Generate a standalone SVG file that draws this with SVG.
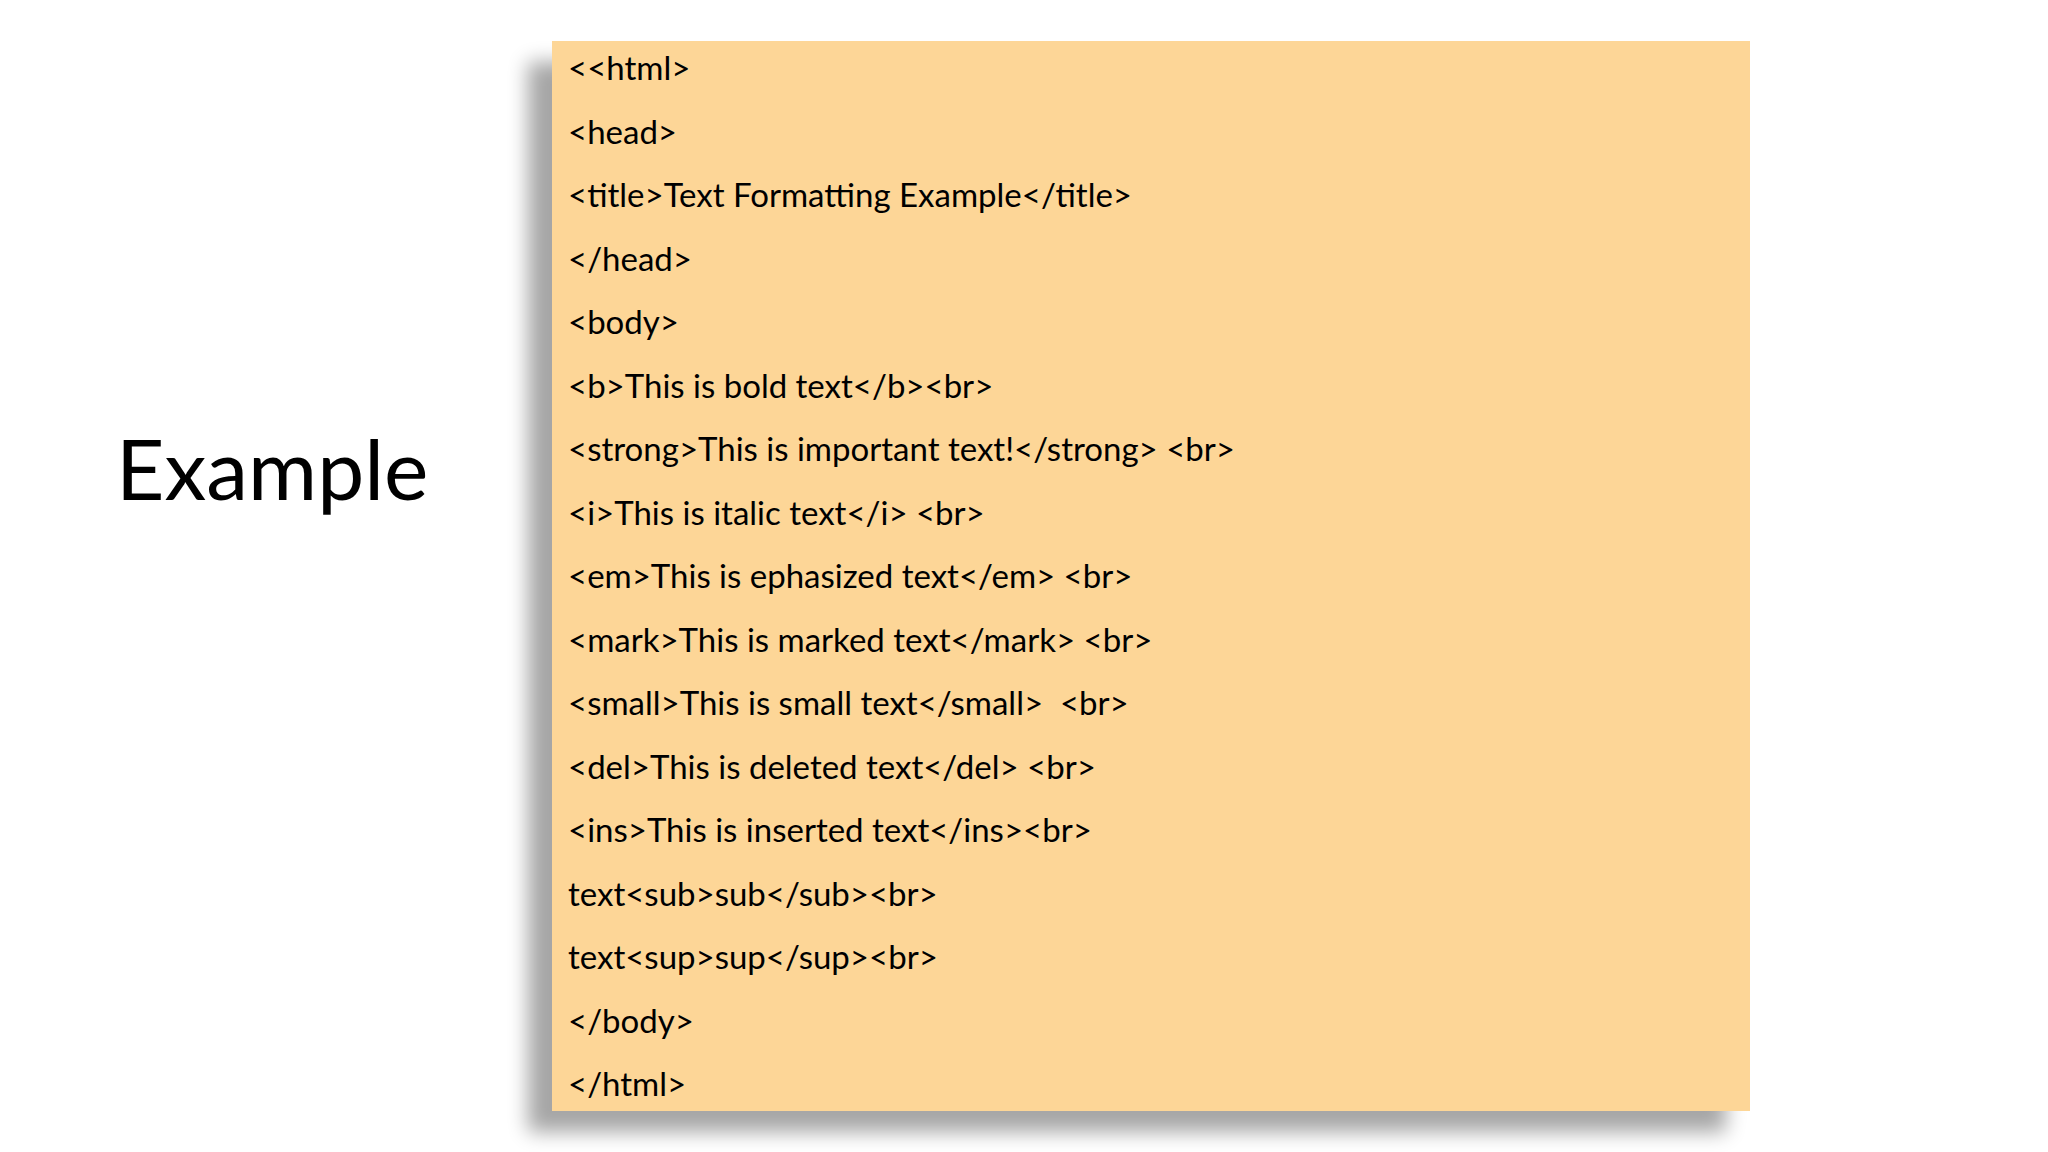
<svg xmlns="http://www.w3.org/2000/svg" width="2048" height="1152" viewBox="0 0 2048 1152">
<defs>
<filter id="sh" x="-10%" y="-10%" width="120%" height="120%"><feGaussianBlur stdDeviation="10"/></filter>
<style>.c{font-family:Lato,"Liberation Sans",sans-serif;font-size:33px;fill:#000}</style>
</defs>
<rect width="2048" height="1152" fill="#fff"/>
<text x="116" y="500" font-family="Lato,'Liberation Sans',sans-serif" font-size="84" fill="#000">Example</text>
<g id="code">
<rect x="528" y="62" width="1198" height="1070" fill="#000" opacity="0.35" filter="url(#sh)"/>
<rect x="552" y="41" width="1198" height="1070" fill="#fdd697"/>
<text class="c" x="568" y="80">&lt;&lt;html&gt;</text>
<text class="c" x="568" y="143.5">&lt;head&gt;</text>
<text class="c" x="568" y="207">&lt;title&gt;Text Formatting Example&lt;/title&gt;</text>
<text class="c" x="568" y="270.5">&lt;/head&gt;</text>
<text class="c" x="568" y="334">&lt;body&gt;</text>
<text class="c" x="568" y="397.5">&lt;b&gt;This is bold text&lt;/b&gt;&lt;br&gt;</text>
<text class="c" x="568" y="461">&lt;strong&gt;This is important text!&lt;/strong&gt; &lt;br&gt;</text>
<text class="c" x="568" y="524.5">&lt;i&gt;This is italic text&lt;/i&gt; &lt;br&gt;</text>
<text class="c" x="568" y="588">&lt;em&gt;This is ephasized text&lt;/em&gt; &lt;br&gt;</text>
<text class="c" x="568" y="651.5">&lt;mark&gt;This is marked text&lt;/mark&gt; &lt;br&gt;</text>
<text class="c" x="568" y="715" xml:space="preserve">&lt;small&gt;This is small text&lt;/small&gt;  &lt;br&gt;</text>
<text class="c" x="568" y="778.5">&lt;del&gt;This is deleted text&lt;/del&gt; &lt;br&gt;</text>
<text class="c" x="568" y="842">&lt;ins&gt;This is inserted text&lt;/ins&gt;&lt;br&gt;</text>
<text class="c" x="568" y="905.5">text&lt;sub&gt;sub&lt;/sub&gt;&lt;br&gt;</text>
<text class="c" x="568" y="969">text&lt;sup&gt;sup&lt;/sup&gt;&lt;br&gt;</text>
<text class="c" x="568" y="1032.5">&lt;/body&gt;</text>
<text class="c" x="568" y="1096">&lt;/html&gt;</text>
</g>
</svg>
